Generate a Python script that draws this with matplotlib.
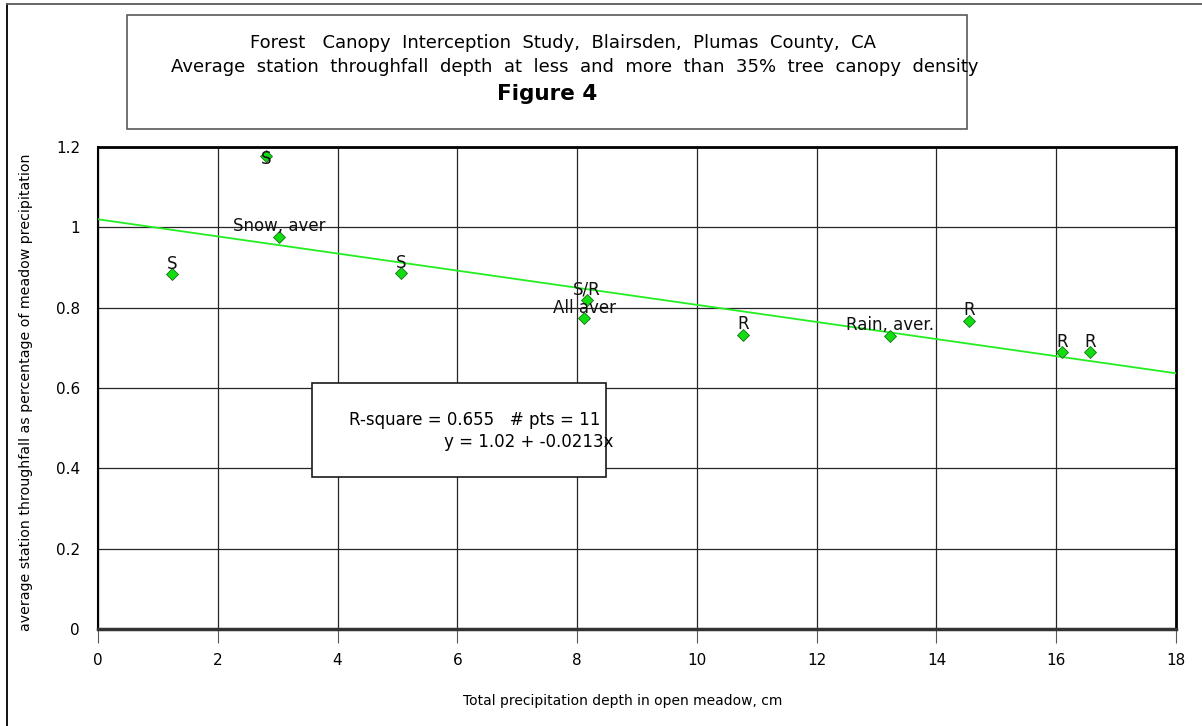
import numpy as np
import matplotlib.pyplot as plt
from matplotlib.patches import Rectangle
from matplotlib.lines import Line2D

# station averages: open meadow depth (cm) vs throughfall fraction
precip_cm = [1.24, 2.80, 3.03, 5.06, 8.16, 8.12, 10.77, 13.22, 14.54, 16.10, 16.57]
throughfall = [0.883, 1.178, 0.976, 0.886, 0.819, 0.774, 0.733, 0.730, 0.768, 0.689, 0.689]
point_labels = ['S', 'S', 'Snow, aver', 'S', 'S/R', 'All aver', 'R', 'Rain, aver.', 'R', 'R', 'R']

# regression from the stats box
intercept = 1.02
slope = -0.0213
r_square = 0.655

x_ticks = [0, 2, 4, 6, 8, 10, 12, 14, 16, 18]
y_ticks = [0, 0.2, 0.4, 0.6, 0.8, 1.0, 1.2]
y_tick_labels = ['0', '0.2', '0.4', '0.6', '0.8', '1', '1.2']

W, H = 1202, 726


def px(x, y):
    # pixel position -> figure fraction
    return x / W, 1 - y / H


fig = plt.figure(figsize=(W / 100, H / 100), dpi=100)
ax = fig.add_axes([98 / W, 1 - 629 / H, (1176 - 98) / W, (629 - 147) / H])

ax.set_xlim(0, 18)
ax.set_ylim(0, 1.2)
ax.set_xticks(x_ticks)
ax.set_yticks(y_ticks)
ax.set_yticklabels(y_tick_labels)
ax.grid(True, color='0.15', lw=0.9)
ax.set_axisbelow(True)

ax.tick_params(axis='x', direction='out', length=10, width=0.8, color='0.35',
               labelsize=11, pad=7)
ax.tick_params(axis='y', length=0, labelsize=11, pad=13)

for side, lw, col in [('top', 2, 'black'), ('right', 2, 'black'),
                      ('left', 1.5, 'black'), ('bottom', 2.5, '0.2')]:
    ax.spines[side].set_linewidth(lw)
    ax.spines[side].set_color(col)

# fitted line across the whole axis
xs = np.array([0, 18])
ax.plot(xs, intercept + slope * xs, color='#22ee22', lw=1.3, zorder=3)

ax.plot(precip_cm, throughfall, 'D', ms=6, mfc='#11dd11', mec='#1b6b1b', mew=0.6,
        zorder=4, clip_on=False)

for xv, yv, lab in zip(precip_cm, throughfall, point_labels):
    dy = -6 if yv > 1.15 else 4  # label at the top edge sits on the point
    ax.annotate(lab, (xv, yv), xytext=(0, dy), textcoords='offset points',
                ha='center', va='baseline', fontsize=12, color='#111111', zorder=5)

ax.set_xlabel('Total precipitation depth in open meadow, cm', fontsize=10)
ax.xaxis.set_label_coords(623 / W, 1 - 694 / H, transform=fig.transFigure)
ax.set_ylabel('average station throughfall as percentage of meadow precipitation', fontsize=10.2)
ax.yaxis.set_label_coords(33 / W, 1 - 392 / H, transform=fig.transFigure)

# outer frame (left and top edges)
fig.add_artist(Line2D([7 / W, 7 / W], [0, 1 - 4 / H], color='black', lw=1.3))
fig.add_artist(Line2D([7 / W, 1], [1 - 4 / H, 1 - 4 / H], color='0.35', lw=1.3))

# title box
fig.add_artist(Rectangle(px(127, 129), (967 - 127) / W, (129 - 15) / H,
                         fill=False, edgecolor='0.35', lw=1.2))
fig.text(*px(563, 43), 'Forest   Canopy  Interception  Study,  Blairsden,  Plumas  County,  CA',
         ha='center', va='center', fontsize=13)
fig.text(*px(575, 67), 'Average  station  throughfall  depth  at  less  and  more  than  35%  tree  canopy  density',
         ha='center', va='center', fontsize=13)
fig.text(*px(547, 94), 'Figure 4', ha='center', va='center', fontsize=15.5, fontweight='bold')

# regression stats box
fig.add_artist(Rectangle(px(312, 477), (606 - 312) / W, (477 - 383) / H,
                         facecolor='white', edgecolor='0.1', lw=1.2, zorder=2))
fig.text(*px(600, 420), f'R-square = {r_square}   # pts = {len(precip_cm)}',
         ha='right', va='center', fontsize=12, zorder=3)
fig.text(*px(613, 442), f'y = {intercept} + {slope}x',
         ha='right', va='center', fontsize=12, zorder=3)

plt.savefig('out.png', dpi=100)
plt.close()
